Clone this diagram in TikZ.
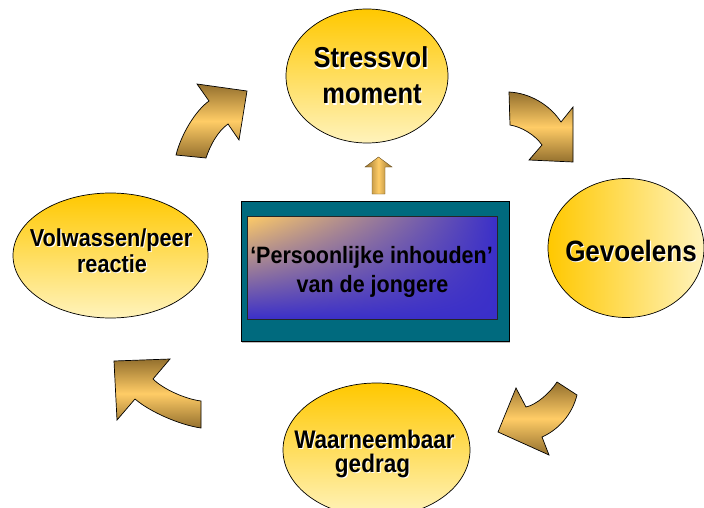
\documentclass[tikz,border=0pt]{standalone}
\usepackage{fontspec}
\setmainfont{Liberation Sans}
\usetikzlibrary{shapes.geometric,shadings}
\definecolor{gold}{HTML}{FFC800}
\definecolor{pale}{HTML}{FFF3BC}
\definecolor{adark}{HTML}{94702E}
\definecolor{alight}{HTML}{FFCC66}
\definecolor{teal0}{HTML}{006A7E}
\definecolor{boxor}{HTML}{FFCC66}
\definecolor{boxbl}{HTML}{3A2FC9}
\newcommand\mylab[5]{%
  \node[lbl, text=white, font=\bfseries\fontsize{#4}{#4}\selectfont, xshift=1.1pt, yshift=-1.1pt] (#1w) at (#2,#3) {\scalebox{1}[1.13]{#5}};
  \node[lbl, font=\bfseries\fontsize{#4}{#4}\selectfont] (#1) at (#2,#3) {\scalebox{1}[1.13]{#5}};}
\begin{document}
\begin{tikzpicture}[x=1pt,y=-1pt,
  bub/.style={ellipse, draw=black, line width=0.7pt, top color=gold, bottom color=pale, inner sep=0pt},
  lbl/.style={anchor=base, inner sep=0pt, text=black},
  barrow/.style={draw=black, line width=0.7pt, line join=miter, top color=adark, bottom color=adark, middle color=alight}]
\useasboundingbox (0,0) rectangle (704,508);

% ellipses
\node[bub, minimum width=162pt, minimum height=134pt] (stress) at (367,76) {};
\node[ellipse, draw=black, line width=0.7pt, left color=gold, right color=pale, inner sep=0pt, minimum width=156pt, minimum height=139pt] (gev) at (626,248) {};
\node[bub, minimum width=195pt, minimum height=125pt] (vol) at (110.5,255.5) {};
\node[bub, minimum width=187pt, minimum height=134pt] (waar) at (376.5,450) {};

% centre box
\node[fill=black!25, minimum width=268pt, minimum height=140pt, inner sep=0pt] (shadow) at (376,273) {};
\node[draw=black, line width=0.7pt, fill=teal0, minimum width=268pt, minimum height=140pt, inner sep=0pt] (outer) at (375,271) {};
\node[draw=black!85, line width=0.5pt, minimum width=250pt, minimum height=103pt, inner sep=0pt,
  upper left=boxor, upper right=boxbl, lower left=boxbl, lower right=boxbl] (inner) at (372,267.5) {};

% small up arrow
\path[draw=adark!70!black, line width=0.4pt, left color=adark, right color=adark, middle color=alight]
  (372,194) -- (372,167) -- (365,167) -- (378.5,157) -- (392,167) -- (385,167) -- (385,194) -- cycle;

% curved arrows
\path[barrow] (176,155) -- (206,158) .. controls (210,146) and (217,132) .. (228,124)
  -- (239,140) -- (247,91) -- (197,84) -- (209,101) .. controls (195,111) and (181,135) .. cycle;
\path[barrow] (509,92) -- (510,125) .. controls (522,127) and (535,135) .. (542,145)
  -- (529,160) -- (573,162) -- (573,107) -- (561,122) .. controls (550,105) and (530,93) .. cycle;
\path[barrow] (557,382) -- (577,395) .. controls (572,415) and (558,430) .. (542,437)
  -- (549,455) -- (498,432) -- (516,388) -- (526,407) .. controls (536,405) and (550,393) .. cycle;
\path[barrow] (201,401) -- (201,428) .. controls (180,425) and (150,412) .. (135,399)
  -- (117,420) -- (114,361) -- (170,359) -- (153,379) .. controls (163,389) and (185,399) .. cycle;

% labels
\mylab{t1}{371}{68}{25.5}{Stressvol}
\mylab{t2}{372}{104}{25.5}{moment}
\mylab{t3}{631}{261}{26}{Gevoelens}
\mylab{t4}{111}{246}{21.7}{Volwassen/peer}
\mylab{t5}{112}{272}{21.7}{reactie}
\mylab{t6}{374.5}{448}{22.5}{Waarneembaar}
\mylab{t7}{372.5}{472}{22.5}{gedrag}
\node[lbl, font=\bfseries\fontsize{21.5}{21.5}\selectfont] (c1) at (371.5,263) {\scalebox{1}[1.1]{‘Persoonlijke inhouden’}};
\node[lbl, font=\bfseries\fontsize{21.5}{21.5}\selectfont] (c2) at (372.5,292) {\scalebox{1}[1.1]{van de jongere}};
\end{tikzpicture}
\end{document}
